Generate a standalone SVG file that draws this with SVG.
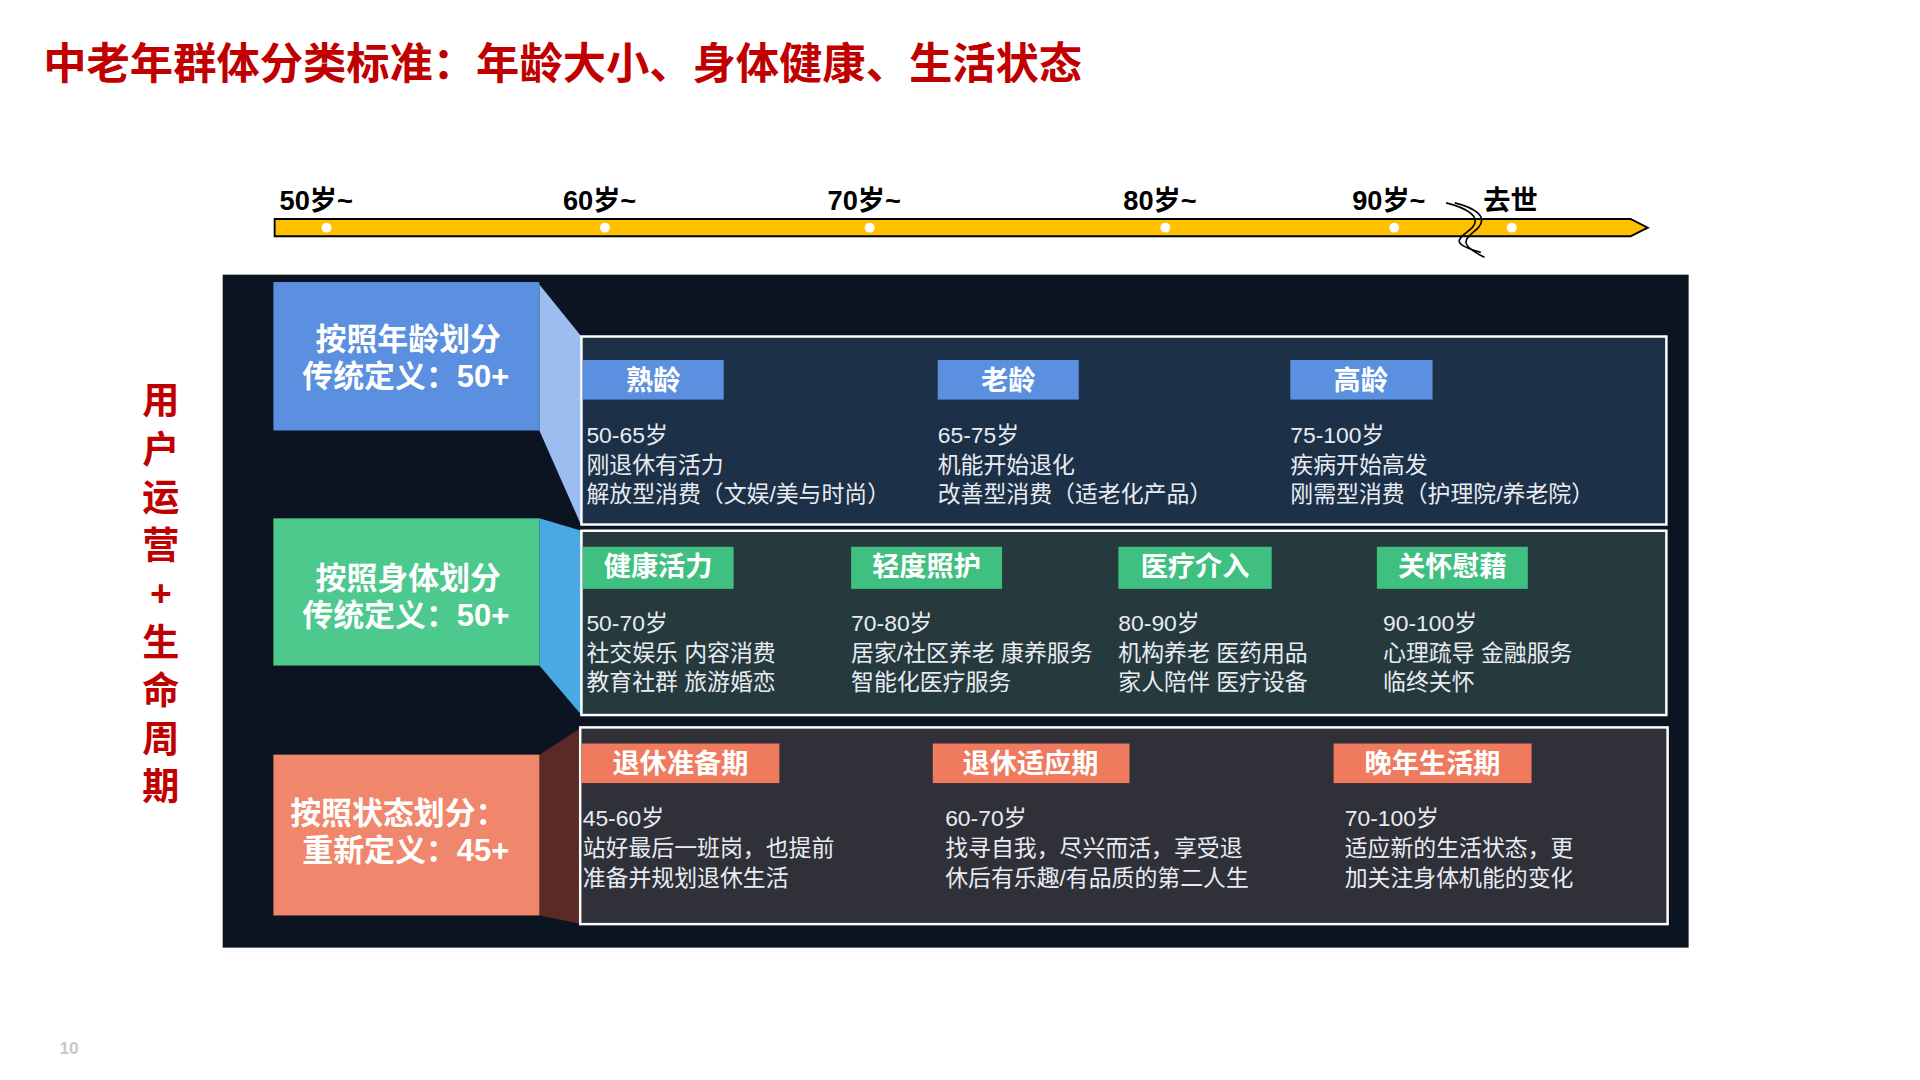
<svg xmlns="http://www.w3.org/2000/svg" width="1920" height="1080" viewBox="0 0 1920 1080">
<style>
text{font-family:"Liberation Sans","Noto Sans CJK SC",sans-serif}
.t{font-size:22px;font-weight:bold;fill:#000}
.h{font-size:25px;font-weight:bold;fill:#fff;text-anchor:middle}
.g{font-size:22px;font-weight:bold;fill:#fff;text-anchor:middle}
.b{font-size:18.5px;fill:#e8ecf2}
.v{font-size:30px;font-weight:bold;fill:#c00000;text-anchor:middle}
</style>
<rect width="1920" height="1080" fill="#fff"/>
<g transform="scale(1.2371)">
<text x="35" y="64" font-size="35" font-weight="bold" fill="#c00000">中老年群体分类标准：年龄大小、身体健康、生活状态</text>
<g id="timeline">
<polygon points="222,177 1318,177 1332,184 1318,191 222,191" fill="#ffc000" stroke="#000" stroke-width="1.5"/>
<g fill="#fff"><circle cx="264" cy="184" r="4"/><circle cx="489" cy="184" r="4"/><circle cx="703" cy="184" r="4"/><circle cx="942" cy="184" r="4"/><circle cx="1127" cy="184" r="4"/><circle cx="1222" cy="184" r="4"/></g>
<path d="M1169,164 C1185,168 1198,175 1190,184 C1182,192 1168,196 1197,204" fill="none" stroke="#000" stroke-width="1.3"/>
<path d="M1176,164 C1192,168 1203,175 1195,184 C1187,192 1175,196 1200,208" fill="none" stroke="#000" stroke-width="1.3"/>
<rect x="1183" y="176" width="7" height="16" fill="#fff" opacity="0"/>
<text class="t" x="226" y="170">50岁~</text>
<text class="t" x="455" y="170">60岁~</text>
<text class="t" x="669" y="170">70岁~</text>
<text class="t" x="908" y="170">80岁~</text>
<text class="t" x="1093" y="170">90岁~</text>
<text class="t" x="1199" y="170">去世</text>
</g>
<rect x="180" y="222" width="1185" height="544" fill="#0b1420"/>
<g id="label">
<text class="v" x="130" y="335">用</text><text class="v" x="130" y="374">户</text><text class="v" x="130" y="413">运</text><text class="v" x="130" y="452">营</text><text class="v" x="130" y="490">+</text><text class="v" x="130" y="530">生</text><text class="v" x="130" y="569">命</text><text class="v" x="130" y="608">周</text><text class="v" x="130" y="647">期</text>
</g>
<g id="connectors">
<polygon points="436,230 470,272 470,425 436,348" fill="#9dbdf0"/>
<polygon points="436,419 470,429 470,578 436,538" fill="#4aa8e2"/>
<polygon points="436,610 470,588 470,747 436,740" fill="#5a2a26"/>
</g>
<g id="row1">
<rect x="221" y="228" width="215" height="120" fill="#5b8fe0"/>
<text class="h" x="330" y="283">按照年龄划分</text>
<text class="h" x="328" y="313">传统定义：50+</text>
<rect x="470" y="272" width="877" height="152" fill="#1c3048" stroke="#fff" stroke-width="2"/>
<rect x="471" y="291" width="114" height="32" fill="#5b8fe0"/><text class="g" x="528" y="315">熟龄</text>
<rect x="758" y="291" width="114" height="32" fill="#5b8fe0"/><text class="g" x="815" y="315">老龄</text>
<rect x="1043" y="291" width="115" height="32" fill="#5b8fe0"/><text class="g" x="1100" y="315">高龄</text>
<text class="b" x="474" y="358">50-65岁</text><text class="b" x="474" y="382">刚退休有活力</text><text class="b" x="474" y="406">解放型消费（文娱/美与时尚）</text>
<text class="b" x="758" y="358">65-75岁</text><text class="b" x="758" y="382">机能开始退化</text><text class="b" x="758" y="406">改善型消费（适老化产品）</text>
<text class="b" x="1043" y="358">75-100岁</text><text class="b" x="1043" y="382">疾病开始高发</text><text class="b" x="1043" y="406">刚需型消费（护理院/养老院）</text>
</g>
<g id="row2">
<rect x="221" y="419" width="215" height="119" fill="#4ec98e"/>
<text class="h" x="330" y="476">按照身体划分</text>
<text class="h" x="328" y="506">传统定义：50+</text>
<rect x="470" y="429" width="877" height="149" fill="#263a3e" stroke="#fff" stroke-width="2"/>
<rect x="471" y="442" width="122" height="34" fill="#3fbf80"/><text class="g" x="532" y="466">健康活力</text>
<rect x="688" y="442" width="122" height="34" fill="#3fbf80"/><text class="g" x="749" y="466">轻度照护</text>
<rect x="904" y="442" width="124" height="34" fill="#3fbf80"/><text class="g" x="966" y="466">医疗介入</text>
<rect x="1113" y="442" width="122" height="34" fill="#3fbf80"/><text class="g" x="1174" y="466">关怀慰藉</text>
<text class="b" x="474" y="510">50-70岁</text><text class="b" x="474" y="534">社交娱乐 内容消费</text><text class="b" x="474" y="558">教育社群 旅游婚恋</text>
<text class="b" x="688" y="510">70-80岁</text><text class="b" x="688" y="534">居家/社区养老 康养服务</text><text class="b" x="688" y="558">智能化医疗服务</text>
<text class="b" x="904" y="510">80-90岁</text><text class="b" x="904" y="534">机构养老 医药用品</text><text class="b" x="904" y="558">家人陪伴 医疗设备</text>
<text class="b" x="1118" y="510">90-100岁</text><text class="b" x="1118" y="534">心理疏导  金融服务</text><text class="b" x="1118" y="558">临终关怀</text>
</g>
<g id="row3">
<rect x="221" y="610" width="215" height="130" fill="#f0876c"/>
<text class="h" x="322" y="666">按照状态划分：</text>
<text class="h" x="328" y="696">重新定义：45+</text>
<rect x="469" y="588" width="879" height="159" fill="#2f3038" stroke="#fff" stroke-width="2"/>
<rect x="470" y="601" width="160" height="32" fill="#f07a5e"/><text class="g" x="550" y="625">退休准备期</text>
<rect x="754" y="601" width="159" height="32" fill="#f07a5e"/><text class="g" x="833" y="625">退休适应期</text>
<rect x="1078" y="601" width="160" height="32" fill="#f07a5e"/><text class="g" x="1158" y="625">晚年生活期</text>
<text class="b" x="471" y="668">45-60岁</text><text class="b" x="471" y="692">站好最后一班岗，也提前</text><text class="b" x="471" y="716">准备并规划退休生活</text>
<text class="b" x="764" y="668">60-70岁</text><text class="b" x="764" y="692">找寻自我，尽兴而活，享受退</text><text class="b" x="764" y="716">休后有乐趣/有品质的第二人生</text>
<text class="b" x="1087" y="668">70-100岁</text><text class="b" x="1087" y="692">适应新的生活状态，更</text><text class="b" x="1087" y="716">加关注身体机能的变化</text>
</g>
<text x="48" y="852" font-size="14" font-weight="bold" fill="#c8c8c8">10</text>
</g>
</svg>
